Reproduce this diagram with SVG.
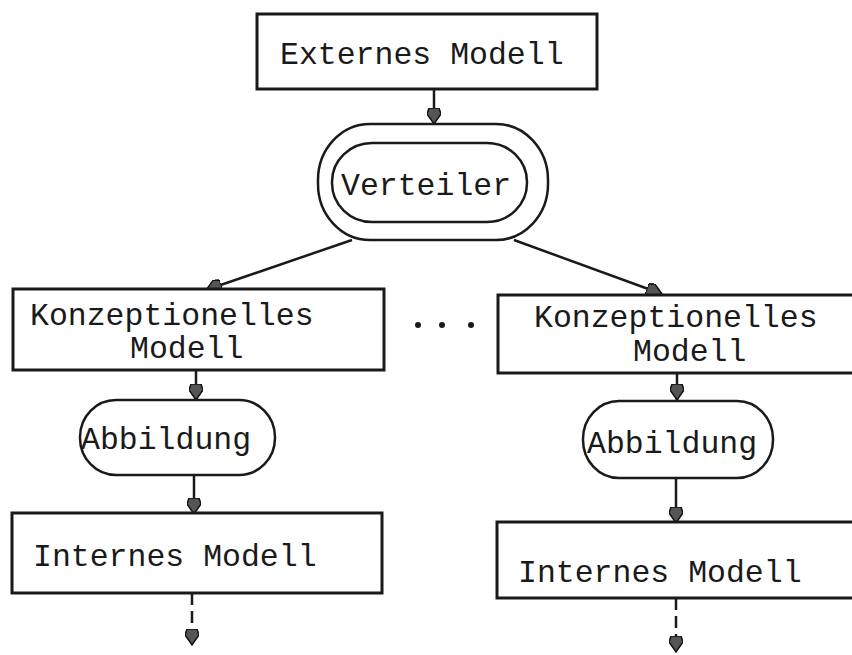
<svg xmlns="http://www.w3.org/2000/svg" width="852" height="655" viewBox="0 0 852 655">
  <defs>
    <marker id="head" markerUnits="userSpaceOnUse" markerWidth="18" markerHeight="14" refX="16" refY="7" orient="auto">
      <path d="M0,2 L6,0 L16,7 L6,14 L0,12 z" fill="#555" stroke="#111" stroke-width="1.5"/>
    </marker>
  </defs>
  <style>
    .box { fill: #fff; stroke: #1a1a1a; stroke-width: 3; }
    .term { fill: none; stroke: #1a1a1a; stroke-width: 2.5; }
    .lbl { font-family: "Liberation Mono", "DejaVu Sans Mono", monospace; font-size: 31.5px; fill: #1a1a1a; }
    .conn { fill: none; stroke: #1a1a1a; stroke-width: 2.5; }
    .dash { stroke-dasharray: 12 6; }
  </style>
  <rect width="852" height="655" fill="#fff"/>

  <g id="connectors">
    <line class="conn" x1="434" y1="90" x2="434" y2="124" marker-end="url(#head)"/>
    <line class="conn" x1="352" y1="240" x2="206" y2="290" marker-end="url(#head)"/>
    <line class="conn" x1="514" y1="240" x2="662" y2="294" marker-end="url(#head)"/>
    <line class="conn" x1="196" y1="370" x2="196" y2="400" marker-end="url(#head)"/>
    <line class="conn" x1="677" y1="373" x2="677" y2="400" marker-end="url(#head)"/>
    <line class="conn" x1="194" y1="475" x2="194" y2="514" marker-end="url(#head)"/>
    <line class="conn" x1="676" y1="478" x2="676" y2="523" marker-end="url(#head)"/>
    <line class="conn dash" x1="192" y1="593" x2="192" y2="645" marker-end="url(#head)"/>
    <line class="conn dash" x1="676" y1="598" x2="676" y2="652" marker-end="url(#head)"/>
  </g>

  <g id="externes-modell">
    <rect class="box" x="257" y="14" width="340" height="75"/>
    <text class="lbl" x="280" y="64">Externes Modell</text>
  </g>

  <g id="verteiler">
    <rect class="term" x="318" y="124" width="230" height="116" rx="52" ry="56"/>
    <rect class="term" x="332" y="143" width="195" height="79" rx="40" ry="39"/>
    <text class="lbl" x="341" y="195">Verteiler</text>
  </g>

  <g id="konzeptionell-links">
    <rect class="box" x="13" y="289" width="371" height="81"/>
    <text class="lbl" x="30" y="325">Konzeptionelles</text>
    <text class="lbl" x="130" y="358">Modell</text>
  </g>

  <g id="ellipsis">
    <circle cx="418" cy="325" r="3" fill="#1a1a1a"/>
    <circle cx="442" cy="325" r="3" fill="#1a1a1a"/>
    <circle cx="471" cy="325" r="3" fill="#1a1a1a"/>
  </g>

  <g id="konzeptionell-rechts">
    <rect class="box" x="498" y="295" width="360" height="78"/>
    <text class="lbl" x="534" y="327">Konzeptionelles</text>
    <text class="lbl" x="633" y="361">Modell</text>
  </g>

  <g id="abbildung-links">
    <rect class="term" x="80" y="400" width="195" height="75" rx="36" ry="37"/>
    <text class="lbl" x="81" y="449">Abbildung</text>
  </g>

  <g id="abbildung-rechts">
    <rect class="term" x="583" y="401" width="190" height="77" rx="36" ry="38"/>
    <text class="lbl" x="587" y="453">Abbildung</text>
  </g>

  <g id="internes-links">
    <rect class="box" x="12" y="513" width="370" height="80"/>
    <text class="lbl" x="33" y="566">Internes Modell</text>
  </g>

  <g id="internes-rechts">
    <rect class="box" x="497" y="522" width="361" height="76"/>
    <text class="lbl" x="518" y="582">Internes Modell</text>
  </g>
</svg>
